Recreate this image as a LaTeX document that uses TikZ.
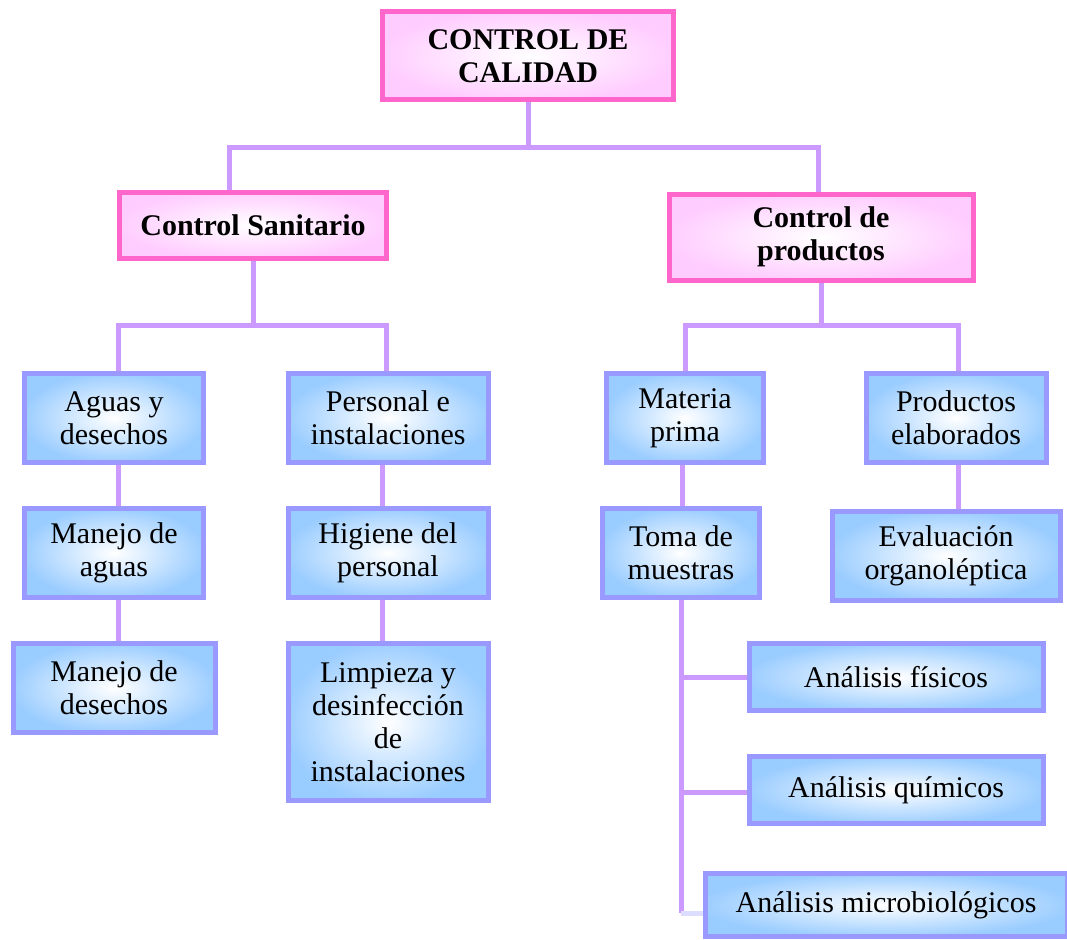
\documentclass[tikz,border=0pt]{standalone}
\usepackage{fontspec}
\setmainfont{Liberation Serif}
\usetikzlibrary{positioning}
\definecolor{rosaborde}{HTML}{FF66CC}
\definecolor{rosafondo}{HTML}{FFCCFF}
\definecolor{azulborde}{HTML}{9999FF}
\definecolor{azulfondo}{HTML}{99CCFF}
\definecolor{linea}{HTML}{CC99FF}
\definecolor{lineaclara}{HTML}{DDDDFF}
\pgfdeclareradialshading{brillorosa}{\pgfpoint{0bp}{0bp}}{color(0bp)=(white); color(26bp)=(rosafondo); color(50bp)=(rosafondo)}
\pgfdeclareradialshading{brilloazul}{\pgfpoint{0bp}{0bp}}{color(0bp)=(white); color(26bp)=(azulfondo); color(50bp)=(azulfondo)}
\tikzset{
  raiz/.style={draw=rosaborde, line width=5pt, shade, shading=brillorosa, align=center, inner sep=0pt,
    font=\fontsize{30}{33}\selectfont\bfseries},
  rama/.style={draw=azulborde, line width=5pt, shade, shading=brilloazul, align=center, inner sep=0pt,
    font=\fontsize{30}{33}\selectfont},
  enlace/.style={draw=linea, line width=5pt}
}

\begin{document}
\begin{tikzpicture}[on grid, node distance=135pt]

   \useasboundingbox (0,0) rectangle (1067pt,-939pt);

   \node[raiz, minimum width=291pt, minimum height=88pt] (calidad) at (528pt,-56pt) {CONTROL DE\\CALIDAD};
   \node[raiz, minimum width=267pt, minimum height=66pt] (sanitario) [below left=169pt and 275pt of calidad] {Control Sanitario};
   \node[raiz, minimum width=304pt, minimum height=86pt] (productos) [below right=181pt and 293pt of calidad] {Control de\\productos};

   \node[rama, minimum width=179pt, minimum height=89pt] (aguas) [below left=193pt and 139pt of sanitario] {Aguas y\\desechos};
   \node[rama, minimum width=200pt, minimum height=89pt] (personal) [below right=193pt and 135pt of sanitario] {Personal e\\instalaciones};
   \node[rama, minimum width=157pt, minimum height=89pt] (materia) [below left=181pt and 136pt of productos] {Materia\\prima};
   \node[rama, minimum width=180pt, minimum height=89pt] (elaborados) [below right=181pt and 135pt of productos] {Productos\\elaborados};

   \node[rama, minimum width=179pt, minimum height=89pt] (manejoaguas) [below=of aguas] {Manejo de\\aguas};
   \node[rama, minimum width=202pt, minimum height=89pt] (manejodesechos) [below=of manejoaguas] {Manejo de\\desechos};
   \node[rama, minimum width=200pt, minimum height=89pt] (higiene) [below=of personal] {Higiene del\\personal};
   \node[rama, minimum width=200pt, minimum height=157pt] (limpieza) [below=169pt of higiene] {Limpieza y\\desinfección\\de\\instalaciones};
   \node[rama, minimum width=157pt, minimum height=89pt] (toma) [below left=135pt and 4pt of materia] {Toma de\\muestras};
   \node[rama, minimum width=228pt, minimum height=89pt] (evaluacion) [below left=138pt and 10pt of elaborados] {Evaluación\\organoléptica};

   \node[rama, minimum width=294pt, minimum height=67pt] (fisicos) [below right=124pt and 215pt of toma] {Análisis físicos};
   \node[rama, minimum width=294pt, minimum height=67pt] (quimicos) [below=113pt of fisicos] {Análisis químicos};
   \node[rama, minimum width=362pt, minimum height=63pt] (micro) [below left=115pt and 10pt of quimicos] {Análisis microbiológicos};

   % ramas principales
   \draw[enlace] (calidad.south) -- ++(0,-45pt) -| ([xshift=-24pt]sanitario.north);
   \draw[enlace] (calidad.south) ++(0,-45pt) -| ([xshift=-3pt]productos.north);
   \draw[enlace] (sanitario.south) -- ++(0,-65pt) -| ([xshift=4pt]aguas.north);
   \draw[enlace] (sanitario.south) ++(0,-65pt) -| ([xshift=-2pt]personal.north);
   \draw[enlace] (productos.south) -- ++(0,-43pt) -| (materia.north);
   \draw[enlace] (productos.south) ++(0,-43pt) -| ([xshift=2pt]elaborados.north);

   % columnas
   \draw[enlace] ([xshift=4pt]aguas.south) -- ([xshift=4pt]aguas.south |- manejoaguas.north);
   \draw[enlace] ([xshift=4pt]manejoaguas.south) -- ([xshift=4pt]manejoaguas.south |- manejodesechos.north);
   \draw[enlace] ([xshift=-6pt]personal.south) -- ([xshift=-6pt]personal.south |- higiene.north);
   \draw[enlace] ([xshift=-6pt]higiene.south) -- ([xshift=-6pt]higiene.south |- limpieza.north);
   \draw[enlace] ([xshift=-3pt]materia.south) -- ([xshift=-3pt]materia.south |- toma.north);
   \draw[enlace] ([xshift=2pt]elaborados.south) -- ([xshift=2pt]elaborados.south |- evaluacion.north);

   % analisis
   \draw[enlace] (toma.south) |- (fisicos.west);
   \draw[enlace] (toma.south) |- ([yshift=-2pt]quimicos.west);
   \draw[enlace] (toma.south) -- ([yshift=-8pt]toma.south |- micro.west);
   \draw[enlace, draw=lineaclara] ([yshift=-8pt]toma.south |- micro.west) -- ([yshift=-8pt]micro.west);
\end{tikzpicture}
\end{document}
